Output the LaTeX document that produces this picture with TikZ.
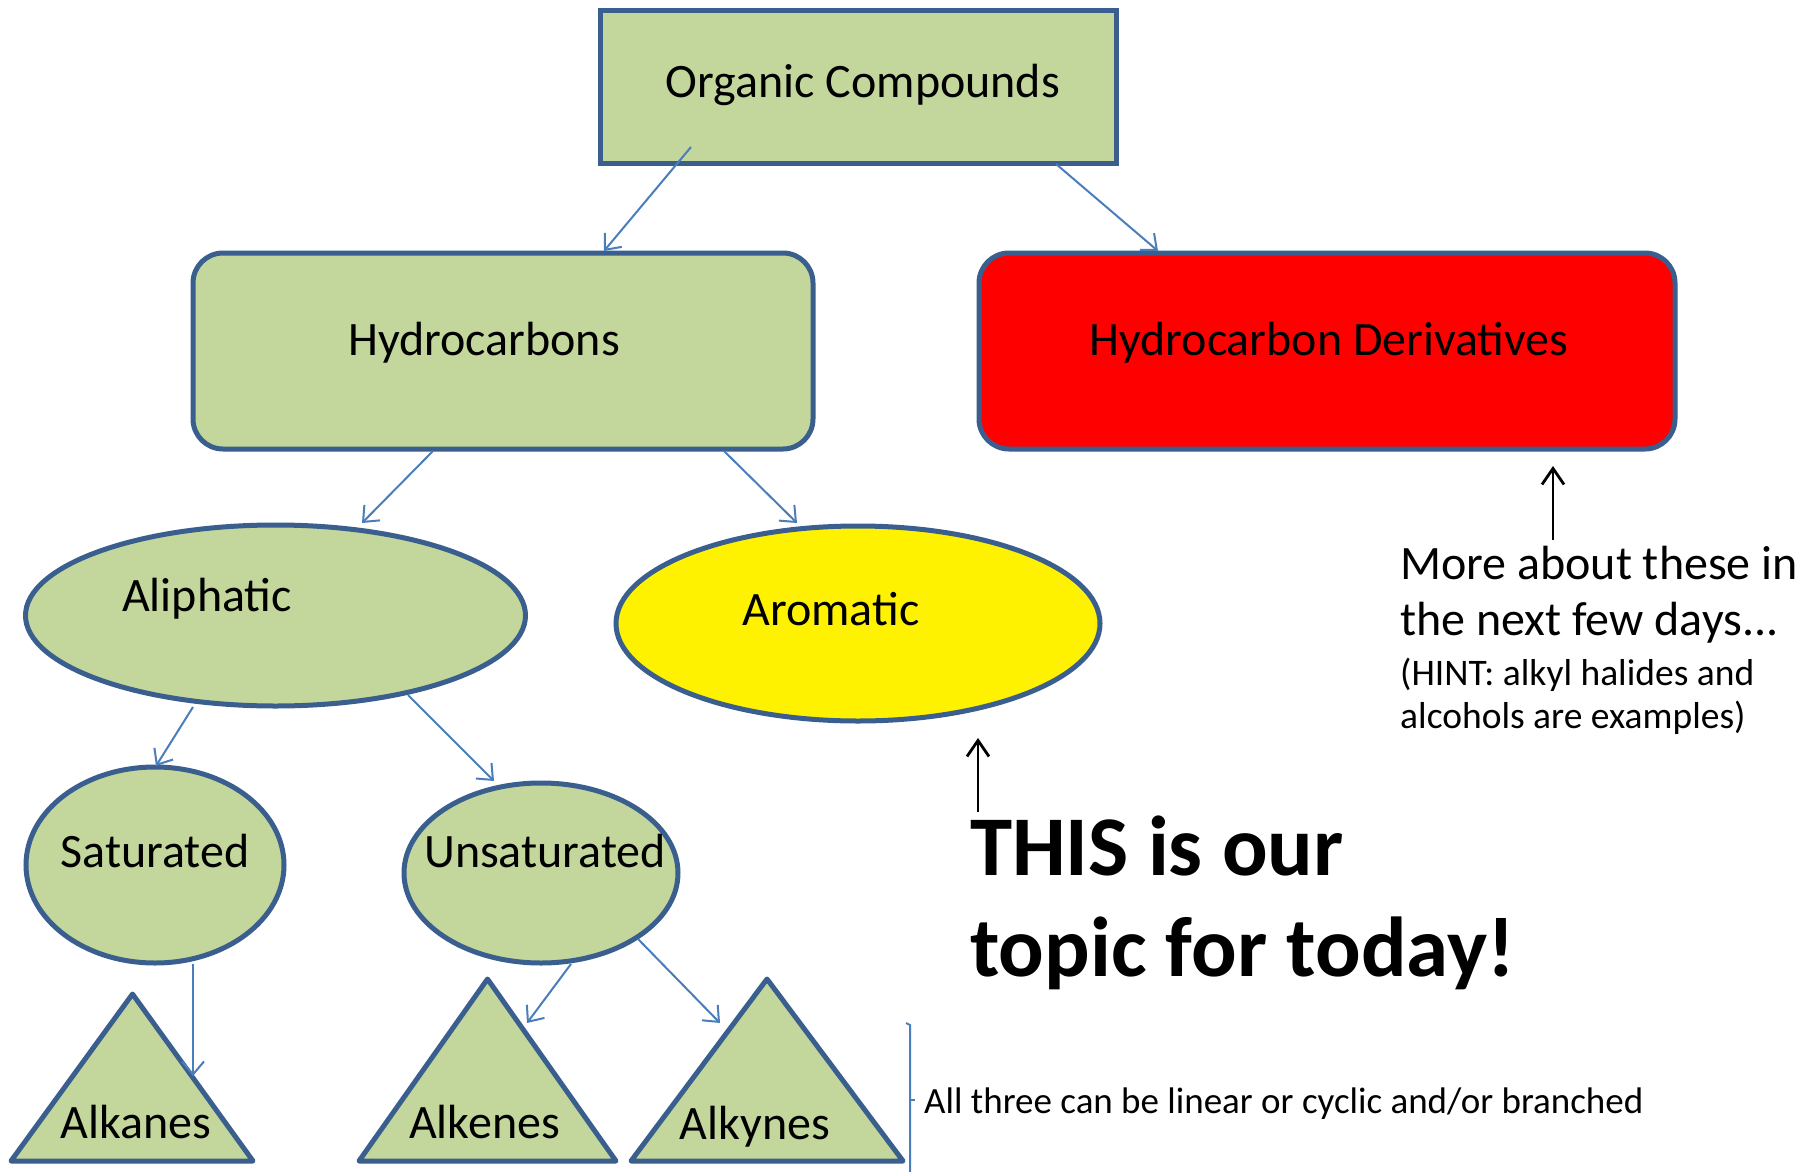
\documentclass[tikz,border=0pt]{standalone}
\usepackage{fontspec}
\setmainfont{Carlito}
\usetikzlibrary{shapes.geometric,arrows.meta}
\definecolor{boxgreen}{HTML}{C3D69B}
\definecolor{edgeblue}{HTML}{3A5F8F}
\definecolor{arrowblue}{HTML}{4A7EBB}
\begin{document}
\begin{tikzpicture}[x=1pt,y=-1pt,
  shapeline/.style={draw=edgeblue, line width=5pt, inner sep=0pt},
  ellnode/.style={shapeline, ellipse, fill=boxgreen},
  tri/.style={draw=edgeblue, line width=5pt, fill=boxgreen, line join=round},
  conn/.style={draw=arrowblue, line width=2pt, -{Straight Barb[length=13pt,width=22pt,line width=2pt]}},
  blackarrow/.style={draw=black, line width=2.8pt, -{Straight Barb[length=16pt,width=22pt,line width=2.8pt]}},
  lbl/.style={anchor=base, inner sep=0pt, font=\fontsize{48}{57}\selectfont},
  note/.style={anchor=base west, inner sep=0pt}
]
\useasboundingbox (0,0) rectangle (1800,1172);
\fill[white] (0,0) rectangle (1800,1172);

% boxes
\node[shapeline, rectangle, fill=boxgreen, minimum width=516pt, minimum height=152pt] (org) at (858,87) {};
\node[shapeline, rectangle, rounded corners=30pt, fill=boxgreen, minimum width=620pt, minimum height=196pt] (hc) at (503,351) {};
\node[shapeline, rectangle, rounded corners=30pt, fill=red, minimum width=696pt, minimum height=196pt] (der) at (1327,351) {};

% ellipses
\node[ellnode, minimum width=500pt, minimum height=181pt] (ali) at (275.5,615.5) {};
\node[ellnode, fill=yellow, minimum width=484pt, minimum height=195pt] (aro) at (858,623.5) {};
\node[ellnode, minimum width=258pt, minimum height=196pt] (sat) at (155,865) {};
\node[ellnode, minimum width=274pt, minimum height=180pt] (uns) at (541,873) {};

% triangles
\draw[tri] (132.5,994) coordinate (tkA) -- (253,1161) -- (11,1161) -- cycle;
\draw[tri] (487.5,979) coordinate (tkE) -- (616,1161) -- (359,1161) -- cycle;
\draw[tri] (767,979) coordinate (tkY) -- (903,1161) -- (631,1161) -- cycle;

% labels
\node[lbl] (orgT) at (863,97) {Organic Compounds};
\node[lbl] (hcT) at (484,355) {Hydrocarbons};
\node[lbl] (derT) at (1329,355) {Hydrocarbon Derivatives};
\node[lbl] (aliT) at (207,611) {Aliphatic};
\node[lbl] (aroT) at (831,625) {Aromatic};
\node[lbl] (satT) at (155,867) {Saturated};
\node[lbl] (unsT) at (545,867) {Unsaturated};
\node[lbl] (alkaT) at (136,1138) {Alkanes};
\node[lbl] (alkeT) at (484.5,1138) {Alkenes};
\node[lbl] (alkyT) at (755,1139) {Alkynes};

% connector end points
\coordinate (c1s) at (691,147);  \coordinate (c1e) at (604,251);
\coordinate (c2s) at (1056,164); \coordinate (c2e) at (1158,251);
\coordinate (c3s) at (433,451);  \coordinate (c3e) at (362,523);
\coordinate (c4s) at (724,451);  \coordinate (c4e) at (797,523);
\coordinate (c5s) at (193,707);  \coordinate (c5e) at (156,766);
\coordinate (c6s) at (408,695);  \coordinate (c6e) at (494,781);
\coordinate (c7s) at (193,964);  \coordinate (c7e) at (193,1076);
\coordinate (c8s) at (571,964);  \coordinate (c8e) at (527,1023);
\coordinate (c9s) at (638,939);  \coordinate (c9e) at (720,1023);

\draw[conn] (c1s) -- (c1e);
\draw[conn] (c2s) -- (c2e);
\draw[conn] (c3s) -- (c3e);
\draw[conn] (c4s) -- (c4e);
\draw[conn] (c5s) -- (c5e);
\draw[conn] (c6s) -- (c6e);
\draw[conn] (c7s) -- (c7e);
\draw[conn] (c8s) -- (c8e);
\draw[conn] (c9s) -- (c9e);

% notes
\node[note, font=\fontsize{48}{57}\selectfont] (m1) at (1400,579) {More about these in};
\node[note, font=\fontsize{48}{57}\selectfont] (m2) at (1400,635) {the next few days...};
\node[note, font=\fontsize{37.5}{45}\selectfont] (h1) at (1400,685) {(HINT: alkyl halides and};
\node[note, font=\fontsize{37.5}{45}\selectfont] (h2) at (1400,728) {alcohols are examples)};
\coordinate (b1s) at (1553,540); \coordinate (b1e) at (1553,466);
\draw[blackarrow] (b1s) -- (b1e);

\node[note, font=\fontsize{85}{100}\bfseries\selectfont] (t1) at (970,875) {THIS is our};
\node[note, font=\fontsize{85}{100}\bfseries\selectfont] (t2) at (970,976) {topic for today!};
\coordinate (b2s) at (978,812); \coordinate (b2e) at (978,738);
\draw[blackarrow] (b2s) -- (b2e);

% bracket
\draw[draw=arrowblue, line width=2pt] (906,1023) -- (910,1025) -- (910,1172);
\draw[draw=arrowblue, line width=2pt] (910,1100) -- (915,1100);
\node[note, font=\fontsize{37}{44}\selectfont] (allT) at (924,1113) {All three can be linear or cyclic and/or branched};
\end{tikzpicture}
\end{document}
